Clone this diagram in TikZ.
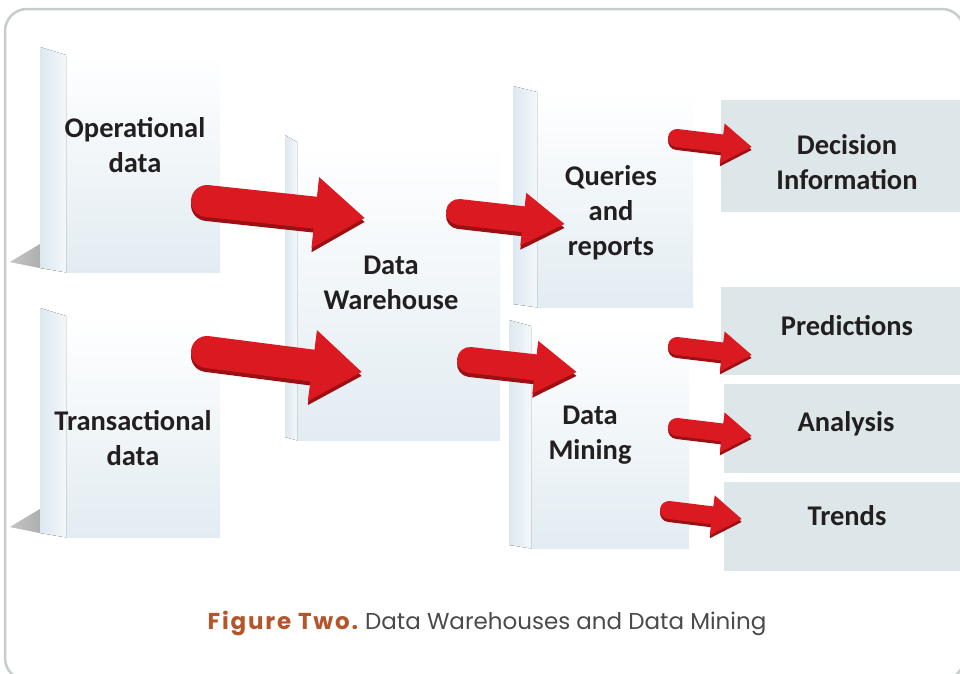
\documentclass[tikz,border=0pt]{standalone}
\usepackage{fontspec}
\setmainfont{Carlito}
\newfontfamily\capfont{Poppins}
\usetikzlibrary{arrows.meta}
\definecolor{arrowred}{HTML}{DA1A20}
\definecolor{arrowdark}{HTML}{9C0F13}
\definecolor{panelbg}{HTML}{DDE7E9}
\definecolor{frameline}{HTML}{C6CDCC}
\definecolor{faceblue}{HTML}{E2ECF2}
\definecolor{sideblue}{HTML}{DCE8F0}
\definecolor{capbrown}{HTML}{B4562C}
\definecolor{captext}{HTML}{4A4A4A}
\definecolor{labeltext}{HTML}{231F20}
\tikzset{
  front/.style={rectangle, inner sep=0pt, anchor=north west, top color=white, bottom color=faceblue},
  sideface/.style={left color=sideblue, right color=faceblue!40!white},
  boxshadow/.style={left color=white, right color=black!25, opacity=0.35},
  panel/.style={rectangle, inner sep=0pt, anchor=north west, fill=panelbg},
  lbl/.style={font=\bfseries\fontsize{28.5}{35}\selectfont, text=labeltext, align=center, inner sep=0pt},
  fatarrow/.style n args={3}{line width=#1, line cap=round, -{Triangle[width=#2, length=#3]}},
}
\begin{document}
\begin{tikzpicture}[x=1pt, y=-1pt]
\useasboundingbox (0,0) rectangle (960,673);
\clip (0,0) rectangle (960,673);
\fill[white] (0,0) rectangle (960,673);
\draw[frameline, line width=2.5pt, rounded corners=22pt] (5,9) rectangle (964,680);

% right panels
\node[panel, minimum width=240pt, minimum height=112pt] (decp) at (721,100) {};
\node[panel, minimum width=240pt, minimum height=88pt] (predp) at (721,287) {};
\node[panel, minimum width=237pt, minimum height=89pt] (anap) at (724,384) {};
\node[panel, minimum width=237pt, minimum height=89pt] (trdp) at (724,482) {};

% operational box
\fill[boxshadow] (10,262) -- (40,244) -- (40,268) -- cycle;
\node[front, minimum width=154pt, minimum height=217pt] (op) at (66,55) {};
\fill[sideface] (40,47) -- (op.north west) -- (op.south west) -- (40,268) -- cycle;

% transactional box
\fill[boxshadow] (10,527) -- (40,509) -- (40,533) -- cycle;
\node[front, minimum width=154pt, minimum height=221pt] (tr) at (66,316) {};
\fill[sideface] (40,308) -- (tr.north west) -- (tr.south west) -- (40,533) -- cycle;

% data warehouse box
\node[front, minimum width=203pt, minimum height=298pt] (dw) at (297,142) {};
\fill[sideface] (285,135) -- (dw.north west) -- (dw.south west) -- (285,437) -- cycle;

% queries box
\node[front, minimum width=156pt, minimum height=215pt] (qr) at (537,92) {};
\fill[sideface] (513,86) -- (qr.north west) -- (qr.south west) -- (513,304) -- cycle;

% data mining box
\node[front, minimum width=158pt, minimum height=222pt] (dm) at (531,326) {};
\fill[sideface] (509,320) -- (dm.north west) -- (dm.south west) -- (509,545) -- cycle;

% labels
\node[lbl] (optxt) at (135,145) {Operational\\data};
\node[lbl] (trtxt) at (133,438) {Transactional\\data};
\node[lbl] (dwtxt) at (391,283) {Data\\Warehouse};
\node[lbl] (qrtxt) at (611,213) {Queries\\and\\reports};
\node[lbl] (dmtxt) at (590,435) {Data\\Mining};
\node[lbl] (dectxt) at (847,162) {Decision\\Information};
\node[lbl] (predtxt) at (847,326) {Predictions};
\node[lbl] (anatxt) at (846,424) {Analysis};
\node[lbl] (trdtxt) at (847,516) {Trends};

% arrow end points
\coordinate (a1s) at (207,201); \coordinate (a1e) at (365,218);
\coordinate (a2s) at (207,352); \coordinate (a2e) at (362,372);
\coordinate (a3s) at (459,212); \coordinate (a3e) at (565,224);
\coordinate (a4s) at (470,360); \coordinate (a4e) at (577,372);
\coordinate (a5s) at (677,138); \coordinate (a5e) at (752,147);
\coordinate (a6s) at (677,346); \coordinate (a6e) at (752,355);
\coordinate (a7s) at (677,427); \coordinate (a7e) at (752,436);
\coordinate (a8s) at (669,510); \coordinate (a8e) at (742,519);

% big arrows
\foreach \n in {1,2}{
  \draw[fatarrow={32pt}{68pt}{50pt}, arrowdark] ([yshift=-4pt]a\n s) -- ([yshift=-4pt]a\n e);
  \draw[fatarrow={32pt}{68pt}{50pt}, arrowred] (a\n s) -- (a\n e);
}
\foreach \n in {3,4}{
  \draw[fatarrow={26pt}{50pt}{42pt}, arrowdark] ([yshift=-4pt]a\n s) -- ([yshift=-4pt]a\n e);
  \draw[fatarrow={26pt}{50pt}{42pt}, arrowred] (a\n s) -- (a\n e);
}
\foreach \n in {5,6,7,8}{
  \draw[fatarrow={18pt}{38pt}{30pt}, arrowdark] ([yshift=-3pt]a\n s) -- ([yshift=-3pt]a\n e);
  \draw[fatarrow={18pt}{38pt}{30pt}, arrowred] (a\n s) -- (a\n e);
}

% caption
\node[inner sep=0pt] (cap) at (487,623) {\fontsize{23}{27}\selectfont{\capfont\bfseries\addfontfeatures{LetterSpace=8}\color{capbrown}Figure Two.} {\capfont\color{captext}Data Warehouses and Data Mining}};
\end{tikzpicture}
\end{document}
